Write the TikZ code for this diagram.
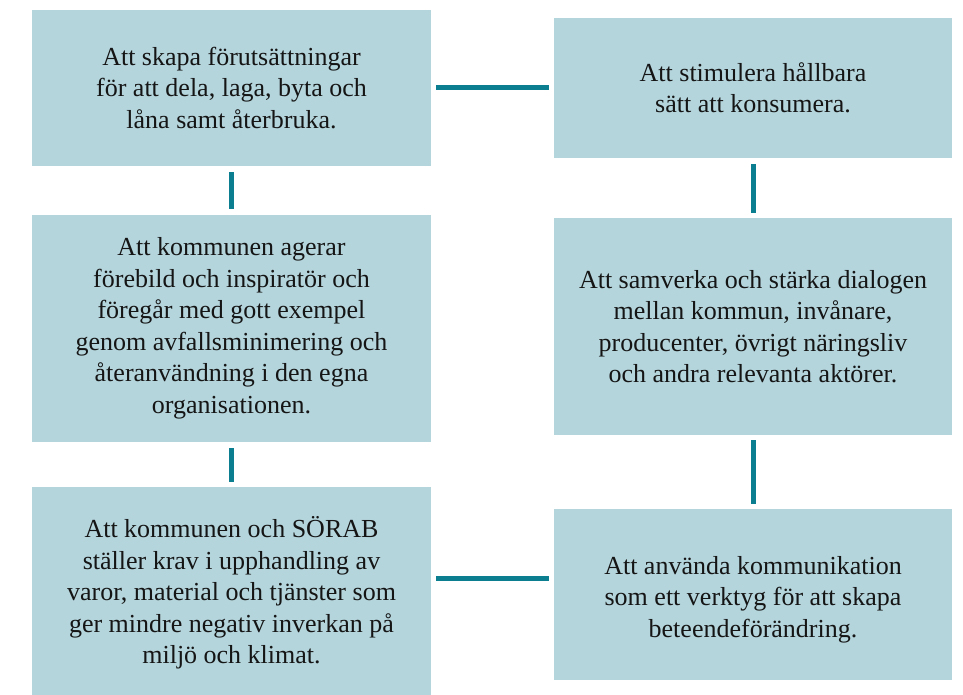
\documentclass[tikz,border=0pt]{standalone}
\usepackage{fontspec}
\setmainfont{Liberation Serif}
\definecolor{boxfill}{HTML}{B4D5DC}
\definecolor{link}{HTML}{0B7E8F}
\definecolor{ink}{HTML}{151515}
\tikzset{
  goaltext/.style={align=center, text=ink, inner sep=0pt, font=\fontsize{26}{31.5}\selectfont},
  goalbox/.style={rectangle, fill=boxfill, draw=none, inner sep=0pt, goaltext},
  linkline/.style={draw=link, line width=5pt}
}
\begin{document}
\begin{tikzpicture}[x=1pt,y=-1pt]
\useasboundingbox (0,0) rectangle (963,695);
\node[goalbox, minimum width=399pt, minimum height=156pt] (L1) at (231.5,88)
  {Att skapa förutsättningar\\för att dela, laga, byta och\\låna samt återbruka.};
\node[goalbox, minimum width=399pt, minimum height=227pt] (L2) at (231.5,328.5)
  {Att kommunen agerar\\förebild och inspiratör och\\föregår med gott exempel\\genom avfallsminimering och\\återanvändning i den egna\\organisationen.};
\node[goalbox, minimum width=399pt, minimum height=212pt] (L3) at (231.5,593)
  {Att kommunen och SÖRAB\\ställer krav i upphandling av\\varor, material och tjänster som\\ger mindre negativ inverkan på\\miljö och klimat.};
\node[goalbox, minimum width=398pt, minimum height=140pt] (R1) at (753,88)
  {Att stimulera hållbara\\sätt att konsumera.};
\node[goalbox, minimum width=398pt, minimum height=217pt] (R2) at (753,326.5)
  {Att samverka och stärka dialogen\\mellan kommun, invånare,\\producenter, övrigt näringsliv\\och andra relevanta aktörer.};
\node[goalbox, minimum width=398pt, minimum height=171pt,
  label={[goaltext, yshift=-5pt]center:Att använda kommunikation\\som ett verktyg för att skapa\\beteendeförändring.}] (R3) at (753,594.5) {};
\draw[linkline, shorten <=5pt, shorten >=5pt] (L1.east) -- (R1.west);
\draw[linkline, shorten <=5pt, shorten >=5pt] ([yshift=15pt]L3.east) -- ([yshift=15pt]L3.east -| R3.west);
\draw[linkline, shorten <=6pt, shorten >=6pt] (L1.south) -- (L2.north);
\draw[linkline, shorten <=6pt, shorten >=5pt] (L2.south) -- (L3.north);
\draw[linkline, shorten <=6pt, shorten >=5pt] (R1.south) -- (R2.north);
\draw[linkline, shorten <=5pt, shorten >=5pt] (R2.south) -- (R3.north);
\end{tikzpicture}
\end{document}
